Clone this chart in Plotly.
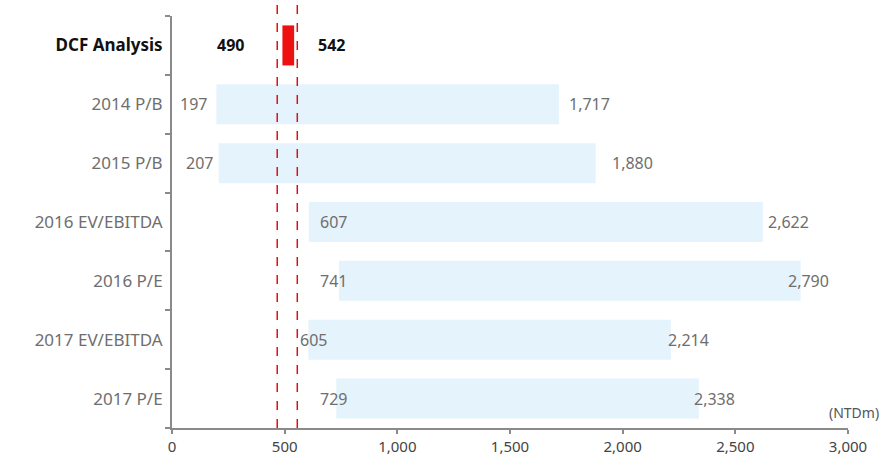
import plotly.graph_objects as go

categories = ["DCF Analysis", "2014 P/B", "2015 P/B", "2016 EV/EBITDA", "2016 P/E", "2017 EV/EBITDA", "2017 P/E"]
low_values = [490, 197, 207, 607, 741, 605, 729]
high_values = [542, 1717, 1880, 2622, 2790, 2214, 2338]
dcf_band = [467, 556]
x_ticks = [0, 500, 1000, 1500, 2000, 2500, 3000]

# label anchor positions (data units, left-anchored) as seen in the reference
low_label_pos = [191, 27, 53, 648, 648, 559, 648]
high_label_pos = [639, 1753, 1944, 2636, 2725, 2193, 2308]

FONT = "Noto Sans, Open Sans, sans-serif"
GREY_TXT = "#6e6e6e"

fig = go.Figure()

colors = ["#ee1111"] + ["#e5f3fd"] * (len(categories) - 1)
fig.add_trace(go.Bar(
    y=categories,
    x=[h - l for l, h in zip(low_values, high_values)],
    base=low_values,
    orientation="h",
    marker=dict(color=colors, line=dict(width=0)),
    width=0.68,
    hoverinfo="skip",
    showlegend=False,
))

for xv in dcf_band:
    fig.add_shape(type="line", x0=xv, x1=xv, xref="x", yref="paper", y0=0, y1=1.03,
                  line=dict(color="#dd1111", width=1.5, dash="dash"), layer="above")

annotations = []
for i, cat in enumerate(categories):
    if i == 0:
        for xv, val in zip([low_label_pos[0], high_label_pos[0]], [low_values[0], high_values[0]]):
            annotations.append(dict(x=xv, y=cat, text="<b>%d</b>" % val, showarrow=False,
                                    xanchor="left", font=dict(size=16, color="#111", family=FONT)))
        continue
    annotations.append(dict(x=low_label_pos[i], y=cat, text=f"{low_values[i]:,}", showarrow=False,
                            xanchor="left", font=dict(size=16, color=GREY_TXT, family=FONT)))
    annotations.append(dict(x=high_label_pos[i], y=cat, text=f"{high_values[i]:,}", showarrow=False,
                            xanchor="left", font=dict(size=16, color=GREY_TXT, family=FONT)))

annotations.append(dict(x=1.0, y=0.0, xref="paper", yref="paper", text="(NTDm)", showarrow=False,
                        xanchor="right", yanchor="bottom", xshift=33, yshift=4,
                        font=dict(size=14, color="#555", family=FONT)))

ticktext = ['<b><span style="color:#111">DCF Analysis</span></b>'] + categories[1:]

fig.update_layout(
    width=886, height=459,
    margin=dict(l=172, r=38, t=16, b=31),
    paper_bgcolor="white", plot_bgcolor="white",
    font=dict(family=FONT, size=16, color=GREY_TXT),
    annotations=annotations,
    bargap=0.3,
)
fig.update_xaxes(
    range=[0, 3000], tickvals=x_ticks, ticktext=[f"{v:,}" for v in x_ticks],
    showgrid=False, zeroline=False, showline=True, linecolor="#8a8a8a", linewidth=2,
    ticks="outside", ticklen=4, tickcolor="#8a8a8a", tickwidth=1.5,
    tickfont=dict(size=15, color="#444", family=FONT), ticklabelstandoff=0,
    automargin=False,
)
fig.update_yaxes(
    categoryorder="array", categoryarray=categories, range=[6.5, -0.5],
    showgrid=False, zeroline=False, showline=True, linecolor="#8a8a8a", linewidth=2,
    ticks="outside", ticklen=5, tickcolor="#8a8a8a", tickwidth=1.5, tickson="boundaries",
    tickvals=categories, ticktext=ticktext,
    tickfont=dict(size=17, color=GREY_TXT, family=FONT), ticklabelstandoff=4,
    automargin=False,
)

fig.write_html("out.html")
